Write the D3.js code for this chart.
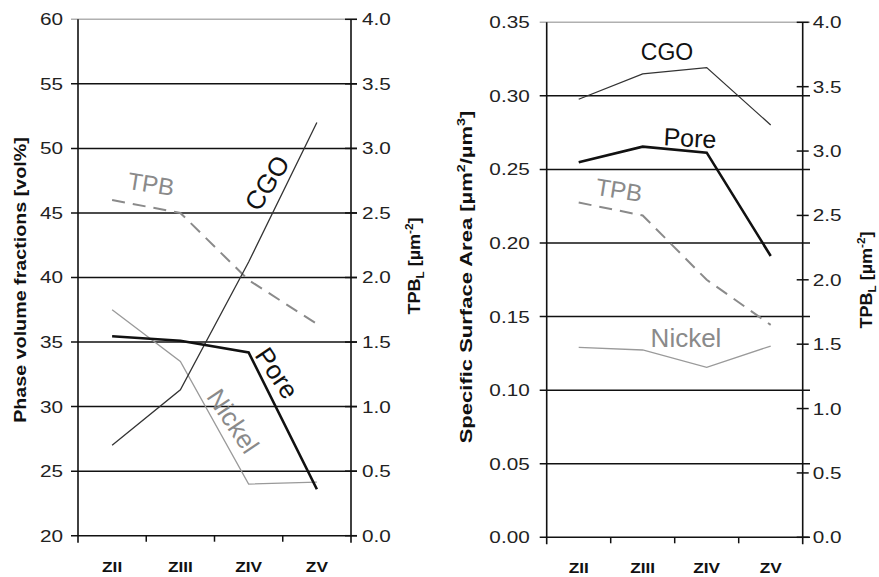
<!DOCTYPE html>
<html><head><meta charset="utf-8">
<script src="https://cdn.jsdelivr.net/npm/d3@7"></script>
<style>
body{margin:0;background:#fff;}
svg{display:block;font-family:"Liberation Sans",Arial,sans-serif;}
</style></head><body>
<svg id="c" width="879" height="577"></svg>
<script>
const categories = ["ZII","ZIII","ZIV","ZV"];
// Left chart: phase volume fractions [vol%]
const volCGO    = [27.0, 31.3, 41.2, 52.0];
const volPore   = [35.45, 35.1, 34.2, 23.6];
const volNickel = [37.5, 33.5, 24.0, 24.15];
const tpbLeft   = [2.6, 2.5, 1.98, 1.64];
const volTicks  = [20,25,30,35,40,45,50,55,60];
// Right chart: specific surface area [µm²/µm³]
const ssaCGO    = [0.2977, 0.3149, 0.3192, 0.2802];
const ssaPore   = [0.2549, 0.2655, 0.2614, 0.1912];
const ssaNickel = [0.1291, 0.1273, 0.1155, 0.1300];
const tpbRight  = [2.6, 2.5, 2.0, 1.65];
const ssaTicks  = [0,0.05,0.10,0.15,0.20,0.25,0.30,0.35];
const tpbTicks  = [0,0.5,1,1.5,2,2.5,3,3.5,4];

const svg = d3.select("#c");
const SX = 1.22;

function fitRot(t, x, y, target){
  const w = t.node().getBBox().width;
  t.attr("transform",`translate(${x},${y}) rotate(-90) scale(${target/w},1)`);
}

function panel(o){
  const g = svg.append("g");
  const x = d3.scaleBand().domain(categories).range([o.x0,o.x1]);
  const cx = c => x(c) + x.bandwidth()/2;
  const yL = d3.scaleLinear().domain(o.ldom).range([o.y0,o.y1]);
  const yR = d3.scaleLinear().domain([0,4]).range([o.y0,o.y1]);
  o.lticks.forEach((t,i)=>{
    const top = i===o.lticks.length-1;
    g.append("line").attr("x1",o.x0-7).attr("x2",o.gx2).attr("y1",yL(t)).attr("y2",yL(t))
      .attr("stroke", top? "#b0b0b0":"#111").attr("stroke-width", top?1.6:1.5);
  });
  tpbTicks.forEach(t=>{
    g.append("line").attr("x1",o.x1-6).attr("x2",o.x1+6).attr("y1",yR(t)).attr("y2",yR(t))
      .attr("stroke","#111").attr("stroke-width",1.5);
  });
  [o.x0,o.x1].forEach(xx=>g.append("line").attr("x1",xx).attr("x2",xx).attr("y1",o.y1).attr("y2",o.y0+7)
      .attr("stroke","#111").attr("stroke-width",1.6));
  categories.map(c=>x(c)).slice(1).forEach(xx=>g.append("line").attr("x1",xx).attr("x2",xx)
      .attr("y1",o.y0).attr("y2",o.y0+6).attr("stroke","#111").attr("stroke-width",1.5));
  categories.forEach(c=>g.append("text").attr("transform",`translate(${cx(c)},${o.y0+36}) scale(1.15,1)`)
      .attr("text-anchor","middle").attr("font-weight","bold").attr("font-size",15).attr("fill","#111").text(c));
  o.lticks.forEach(t=>g.append("text").attr("transform",`translate(${o.x0-o.lgap},${yL(t)}) scale(${SX},1)`)
      .attr("dy","0.35em").attr("text-anchor","end").attr("font-size",17).attr("fill","#222").text(o.lfmt(t)));
  tpbTicks.forEach(t=>g.append("text").attr("transform",`translate(${o.x1+o.rgap},${yR(t)}) scale(${SX},1)`)
      .attr("dy","0.35em").attr("font-size",17).attr("fill","#222").text(d3.format(".1f")(t)));
  const lineL = d3.line().x((d,i)=>cx(categories[i])).y(d=>yL(d));
  const lineR = d3.line().x((d,i)=>cx(categories[i])).y(d=>yR(d));
  g.append("path").attr("d",lineR(o.tpb)).attr("fill","none").attr("stroke","#8a8a8a").attr("stroke-width",2).attr("stroke-dasharray","13,8");
  g.append("path").attr("d",lineL(o.nickel)).attr("fill","none").attr("stroke","#9a9a9a").attr("stroke-width",1.3);
  g.append("path").attr("d",lineL(o.cgo)).attr("fill","none").attr("stroke","#333").attr("stroke-width",1.3);
  g.append("path").attr("d",lineL(o.pore)).attr("fill","none").attr("stroke","#111").attr("stroke-width",2.6);
  o.labels.forEach(l=>g.append("text").attr("transform",`translate(${l.x},${l.y}) rotate(${l.r})`)
      .attr("text-anchor","middle").attr("dy","0.35em").attr("font-size",l.s).attr("fill",l.c).text(l.t));
  const lt = g.append("text").attr("text-anchor","middle").attr("dy","0.35em")
      .attr("font-weight","bold").attr("font-size",17).attr("fill","#111");
  o.ltitle(lt);
  fitRot(lt, o.ltx, o.lty, o.llen);
  const rt = g.append("text").attr("text-anchor","middle").attr("dy","0.35em")
      .attr("font-weight","bold").attr("font-size",17).attr("fill","#111");
  rt.append("tspan").text("TPB");
  rt.append("tspan").attr("font-size",11).attr("dy",4).text("L");
  rt.append("tspan").attr("dy",-4).text(" [µm");
  rt.append("tspan").attr("font-size",11).attr("dy",-7).text("-2");
  rt.append("tspan").attr("dy",7).text("]");
  fitRot(rt, o.rtx, o.rty, o.rlen);
}

panel({x0:78,x1:351,gx2:357,y0:535.7,y1:19.3,ldom:[20,60],lticks:volTicks,lfmt:d3.format("d"),
  lgap:15,rgap:11,
  cgo:volCGO,pore:volPore,nickel:volNickel,tpb:tpbLeft,
  ltx:20,lty:280,llen:286,rtx:414,rty:266,rlen:97,
  ltitle:t=>t.text("Phase volume fractions [vol%]"),
  labels:[{t:"TPB",x:151,y:184,r:9,c:"#8a8a8a",s:24},{t:"CGO",x:267,y:183,r:-57,c:"#111",s:26},
          {t:"Pore",x:277,y:373,r:56,c:"#111",s:26},{t:"Nickel",x:233,y:421,r:56,c:"#8a8a8a",s:26}]});

panel({x0:546.7,x1:802.7,gx2:810,y0:537.3,y1:22.3,ldom:[0,0.35],lticks:ssaTicks,lfmt:d3.format(".2f"),
  lgap:17,rgap:10,
  cgo:ssaCGO,pore:ssaPore,nickel:ssaNickel,tpb:tpbRight,
  ltx:466,lty:277,llen:333,rtx:866,rty:280,rlen:97,
  ltitle:t=>{t.append("tspan").text("Specific Surface Area [µm");
    t.append("tspan").attr("font-size",11).attr("dy",-7).text("2");
    t.append("tspan").attr("dy",7).text("/µm");
    t.append("tspan").attr("font-size",11).attr("dy",-7).text("3");
    t.append("tspan").attr("dy",7).text("]");},
  labels:[{t:"CGO",x:667,y:52,r:0,c:"#111",s:23},{t:"Pore",x:690,y:138,r:3,c:"#111",s:25},
          {t:"TPB",x:619,y:190,r:9,c:"#8a8a8a",s:24},{t:"Nickel",x:686,y:338,r:0,c:"#8a8a8a",s:26}]});
</script>
</body></html>
